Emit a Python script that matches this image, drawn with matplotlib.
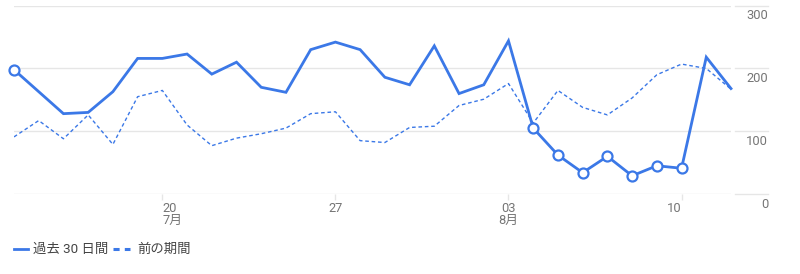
import matplotlib
matplotlib.use("Agg")
import matplotlib.pyplot as plt
import matplotlib.dates as mdates
from matplotlib.lines import Line2D
import pandas as pd

plt.rcParams['font.family'] = ['Roboto', 'Noto Sans CJK JP', 'DejaVu Sans']

# Daily values: last 30 days vs. the previous period
dates = pd.date_range('2020-07-14', '2020-08-12', freq='D')
current = [198, 163, 128, 130, 163, 216, 216, 223, 191, 210,
           170, 162, 230, 242, 230, 186, 174, 236, 160, 174,
           244, 105, 62, 34, 60, 29, 45, 41, 218, 168]
previous = [91, 117, 88, 126, 79, 155, 165, 110, 77, 89,
            96, 105, 128, 131, 85, 82, 106, 108, 141, 151,
            176, 113, 165, 138, 126, 153, 190, 207, 200, 167]
marker_days = [0, 21, 22, 23, 24, 25, 26, 27]

xtick_dates = ['2020-07-20', '2020-07-27', '2020-08-03', '2020-08-10']
xtick_days = ['20', '27', '03', '10']
xtick_months = ['7月', '', '8月', '']
xtick_align = ['left', 'center', 'center', 'right']
yticks = [0, 100, 200, 300]
legend_labels = ['過去 30 日間', '前の期間']

BLUE = '#3b78e7'
GRID = '#e6e6e6'
TICK_TXT = '#757575'
LEG_TXT = '#444444'

W, H = 800, 274
fig = plt.figure(figsize=(W / 100, H / 100), dpi=100)
ax = fig.add_axes([14 / W, (H - 194) / H, (731 - 14) / W, (194 - 5.7) / H])

ax.plot(dates, previous, color=BLUE, lw=1.0, ls=(0, (2.6, 2.0)), zorder=2)
ax.plot(dates, current, color=BLUE, lw=2.0, zorder=3, clip_on=False,
        marker='o', markevery=marker_days, markersize=7.2,
        markerfacecolor='white', markeredgecolor=BLUE, markeredgewidth=1.6,
        solid_joinstyle='miter')

ax.set_xlim(dates[0], dates[-1])
ax.set_ylim(0, 300)
ax.set_yticks(yticks)
ax.grid(axis='y', color=GRID, lw=1.0)
ax.set_axisbelow(True)
for s in ax.spines.values():
    s.set_visible(False)
ax.tick_params(axis='y', length=0, labelleft=False)
tick_pos = [mdates.date2num(pd.Timestamp(d)) for d in xtick_dates]
ax.set_xticks(tick_pos)
ax.tick_params(axis='x', length=4, width=1, color=GRID, labelbottom=False)

# x-axis labels: day number, with month under the first tick of each month
for pos, day, mon, ha in zip(tick_pos, xtick_days, xtick_months, xtick_align):
    ax.annotate(day, xy=(pos, 0), xycoords=('data', 'axes fraction'),
                xytext=(0, -17.5), textcoords='offset pixels',
                ha=ha, va='baseline', fontsize=9.3, color=TICK_TXT)
    if mon:
        ax.annotate(mon, xy=(pos, 0), xycoords=('data', 'axes fraction'),
                    xytext=(0, -29.5), textcoords='offset pixels',
                    ha=ha, va='baseline', fontsize=9.3, color=TICK_TXT)

# right-hand value scale with short separate grid segments
x0 = (735 - 14) / (731 - 14)
x1 = (768 - 14) / (731 - 14)
for v in yticks:
    ax.plot([x0, x1], [v, v], transform=ax.get_yaxis_transform(),
            color=GRID, lw=1.0, clip_on=False)
    ax.annotate(str(v), xy=(x1, v), xycoords=ax.get_yaxis_transform(),
                xytext=(0, -13.5), textcoords='offset pixels',
                ha='right', va='baseline', fontsize=9.3, color=TICK_TXT)

# legend
ly = 1 - 249 / H
fig.add_artist(Line2D([14 / W, 28 / W], [ly, ly], color=BLUE, lw=2.0,
                      transform=fig.transFigure))
fig.add_artist(Line2D([113 / W, 130 / W], [ly, ly], color=BLUE, lw=2.2,
                      ls=(0, (2.0, 1.7)), dash_capstyle='butt',
                      transform=fig.transFigure))
fig.text(33 / W, 1 - 253 / H, legend_labels[0], ha='left', va='baseline',
         fontsize=9.6, color=LEG_TXT)
fig.text(137 / W, 1 - 253 / H, legend_labels[1], ha='left', va='baseline',
         fontsize=9.6, color=LEG_TXT)

fig.savefig('out.png', dpi=100)
